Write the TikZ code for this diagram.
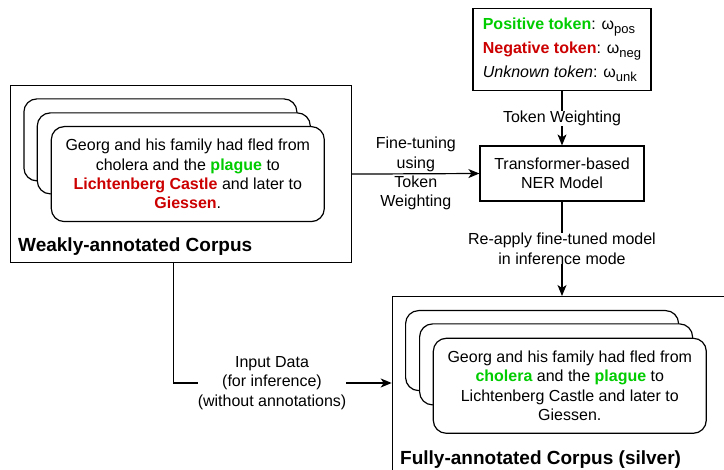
\documentclass[tikz,border=0pt]{standalone}
\usepackage{fontspec}
\setmainfont{Liberation Sans}
\usetikzlibrary{arrows.meta,positioning}
\definecolor{poscol}{HTML}{00CC00}
\definecolor{negcol}{HTML}{CC0000}
\newcommand{\postok}[1]{\textcolor{poscol}{\bfseries #1}}
\newcommand{\negtok}[1]{\textcolor{negcol}{\bfseries #1}}
\newcommand{\wsub}[1]{\raisebox{-4pt}{\fontsize{13}{13}\selectfont #1}}

\begin{document}
\begin{tikzpicture}[
  x=1pt,y=1pt,
  node distance=54pt,
  every node/.style={font=\fontsize{16}{19.3}\selectfont},
  box/.style={draw,line width=1.2pt,align=center},
  card/.style={draw,line width=1.2pt,rounded corners=13pt,fill=white,minimum width=273pt,anchor=north west,align=center,inner sep=0pt},
  corpus/.style={draw,line width=1.2pt,anchor=north west},
  title/.style={font=\fontsize{19}{22}\selectfont\bfseries,anchor=west,inner sep=0pt},
  flow/.style={-{Stealth[length=11pt,width=9pt,inset=3pt]},line width=1.2pt},
  edge label/.style={fill=white,align=center,inner sep=0pt}
]
\useasboundingbox (0,0) rectangle (724,470);
\clip (0,0) rectangle (724,470);

% model and weighting
\node[box,minimum width=164pt,minimum height=55pt] (ner) at (562,296.5) {Transformer-based\\NER Model};
\node[box,above=54pt of ner,minimum width=178pt,minimum height=82pt,align=left,
  font=\fontsize{16}{24}\selectfont] (legend)
  {\postok{Positive token}: ω\wsub{pos}\\
   \negtok{Negative token}: ω\wsub{neg}\\
   \textit{Unknown token}: ω\wsub{unk}};

% weakly-annotated corpus
\node[corpus,minimum width=341pt,minimum height=177pt] (weak) at (10,385) {};
\node[card,minimum height=82pt] (wback) at (23.3,371.7) {};
\node[card,minimum height=81pt] (wmid) at (36.7,357.7) {};
\node[card,minimum height=95pt] (wfront) at (50.7,344)
  {Georg and his family had fled from\\
   cholera and the \postok{plague} to\\
   \negtok{Lichtenberg Castle} and later to\\
   \negtok{Giessen}.};
\node[title] (wtitle) at (18,223.3) {Weakly-annotated Corpus};

% fully-annotated corpus
\node[corpus,minimum width=420pt,minimum height=250pt] (full) at (391.7,174) {};
\node[card,minimum height=80pt] (fback) at (405,160) {};
\node[card,minimum height=81pt] (fmid) at (419,146.7) {};
\node[card,minimum height=95pt] (ffront) at (432.7,132.3)
  {Georg and his family had fled from\\
   \postok{cholera} and the \postok{plague} to\\
   Lichtenberg Castle and later to\\
   Giessen.};
\node[title] (ftitle) at (400,10) {Fully-annotated Corpus (silver)};

% connectors
\coordinate (weakout) at (173.3,208);
\coordinate (fullin) at (391.7,87);
\draw[flow] (legend) -- node[edge label] {Token Weighting} (ner);
\draw[flow] (weak.east) -- node[align=center] {Fine-tuning\\using\\Token\\Weighting} (ner.west);
\draw[flow] (ner) -- node[edge label] {Re-apply fine-tuned model\\in inference mode} (ner.south |- full.north);
\draw[flow] (weakout) |- node[pos=0.726,edge label] {Input Data\\(for inference)\\(without annotations)} (fullin);
\end{tikzpicture}
\end{document}
